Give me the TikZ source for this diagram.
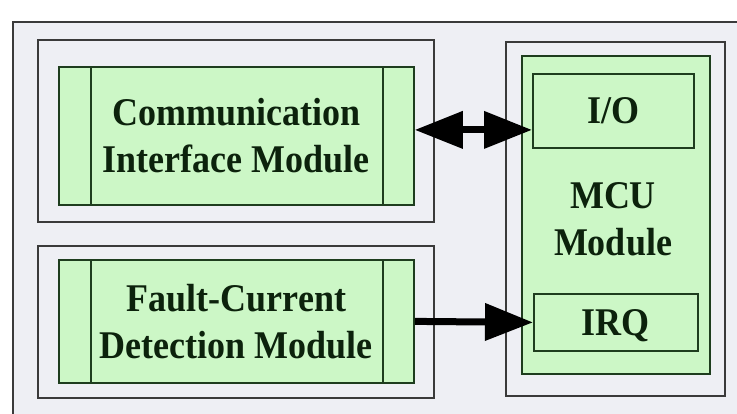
\documentclass[tikz,border=0pt]{standalone}
\usepackage{fontspec}
\setmainfont{Liberation Serif}
\usetikzlibrary{arrows.meta,calc}
\definecolor{bggray}{HTML}{EEEFF4}
\definecolor{boxgreen}{HTML}{CCF7C6}
\definecolor{framegray}{HTML}{3A3A3A}
\definecolor{greenline}{HTML}{1E3D1E}
\definecolor{textcol}{HTML}{0C220C}
\newcommand{\tl}[1]{\scalebox{1}[1.09]{#1}}
\begin{document}
\begin{tikzpicture}[x=1pt,y=-1pt,
  container/.style={draw=framegray,line width=1.8pt,fill=bggray,rectangle,anchor=north west,inner sep=0pt},
  greenbox/.style={draw=greenline,line width=1.8pt,fill=boxgreen,rectangle,anchor=north west,inner sep=0pt},
  sidebars/.style={path picture={
     \draw[greenline,line width=1.6pt] ([xshift=32pt]path picture bounding box.north west) -- ([xshift=32pt]path picture bounding box.south west);
     \draw[greenline,line width=1.6pt] ([xshift=-31pt]path picture bounding box.north east) -- ([xshift=-31pt]path picture bounding box.south east);}},
  label/.style={font=\bfseries\fontsize{36}{47}\selectfont,text=textcol,align=center,inner sep=0pt},
  bigarrow/.style={line width=7pt,draw=black,-{Triangle[length=48pt,width=36pt]}},
  dblarrow/.style={line width=7pt,draw=black,{Triangle[length=48pt,width=36pt]}-{Triangle[length=48pt,width=36pt]}}
]
\useasboundingbox (0,0) rectangle (737,414);
\fill[white] (0,0) rectangle (737,414);
\clip (0,0) rectangle (737,414);
% outer frame
\node[container,minimum width=760pt,minimum height=420pt] (outer) at (12,21) {};
% left containers
\node[container,minimum width=396pt,minimum height=182pt] (topc) at (37,39) {};
\node[container,minimum width=396pt,minimum height=152pt] (botc) at (37,245) {};
\node[container,minimum width=219pt,minimum height=354pt] (mcuc) at (505,41) {};
% green modules
\node[greenbox,sidebars,minimum width=355pt,minimum height=138pt] (cim) at (58,66) {};
\node[greenbox,sidebars,minimum width=355pt,minimum height=123pt] (fcd) at (58,259) {};
\node[greenbox,minimum width=188pt,minimum height=318pt] (mcu) at (521,55) {};
\node[greenbox,minimum width=161pt,minimum height=74pt] (io) at (532,73) {};
\node[greenbox,minimum width=164pt,minimum height=57pt] (irq) at (533,293) {};
% labels
\node[label] (cimtext) at (cim.center) {\tl{Communication}\\\tl{Interface Module}};
\node[label] (fcdtext) at (fcd.center) {\tl{Fault-Current}\\\tl{Detection Module}};
\node[label] (iotext) at (io.center) {\tl{I/O}};
\node[label,text depth=0pt] (irqtext) at (irq.center) {\tl{IRQ}};
\node[label] (mcutext) at (613,219) {\tl{MCU}\\\tl{Module}};
% arrows
\draw[dblarrow] ([yshift=6pt]cim.east) -- ([yshift=6pt]cim.east -| io.west);
\draw[bigarrow] (fcd.east) -- (irq.west);
\end{tikzpicture}
\end{document}
